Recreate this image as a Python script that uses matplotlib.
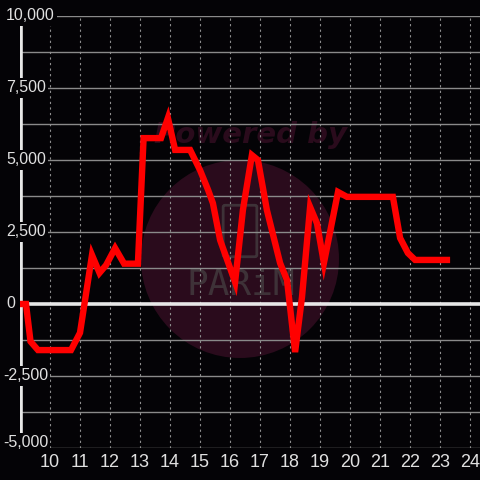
import matplotlib.pyplot as plt
from matplotlib.patches import Ellipse, FancyBboxPatch
import matplotlib.transforms as mtransforms

plt.rcParams['font.family'] = ['Liberation Sans', 'DejaVu Sans']

# hour of day vs value
hours = [9.0, 9.2, 9.35, 9.6, 10.7, 11.0, 11.4, 11.65, 11.87, 12.17, 12.47, 12.93,
         13.12, 13.7, 13.93, 14.17, 14.67, 15.0, 15.27, 15.43, 15.67, 16.17, 16.43,
         16.73, 16.93, 17.23, 17.67, 17.9, 18.17, 18.4, 18.67, 18.9, 19.13, 19.6,
         19.9, 21.43, 21.67, 21.93, 22.17, 23.23]
values = [0, 0, -1300, -1600, -1600, -1000, 1700, 1080, 1350, 1940, 1400, 1400,
          5760, 5760, 6460, 5350, 5350, 4650, 3960, 3500, 2220, 760, 3260,
          5170, 5000, 3260, 1420, 830, -1670, 240, 3370, 2800, 1420, 3890,
          3720, 3720, 2290, 1770, 1530, 1530]

xticks = list(range(10, 25))
yticks = [-5000, -2500, 0, 2500, 5000, 7500, 10000]
yminor = [-3750, -1250, 1250, 3750, 6250, 8750]

bg = '#040306'
fig = plt.figure(figsize=(4.8, 4.8), dpi=100, facecolor=bg)
ax = fig.add_axes([20/480, 32/480, 460/480, 432/480], facecolor=bg)
ax.set_xlim(9, 9 + 460/30)
ax.set_ylim(-5000, 10000)
for s in ax.spines.values():
    s.set_visible(False)

# watermark
ax.add_patch(Ellipse((220/460, 189/432), 198/460, 198/432, transform=ax.transAxes,
                     facecolor='#2a0b1c', edgecolor='none', zorder=0))
ax.add_patch(FancyBboxPatch((205/460, 193/432), 30/460, 48/432, transform=ax.transAxes,
                            boxstyle='round,pad=0.004', facecolor='none',
                            edgecolor='#3e3238', lw=2, zorder=0))
ax.text(0.5, 0.725, 'Powered by', transform=ax.transAxes, ha='center', va='center',
        fontsize=21, fontweight='bold', style='italic', color='#2a0b1c', zorder=0,
        family='DejaVu Sans')
ax.text(0.48, 0.378, 'PARiM', transform=ax.transAxes, ha='center', va='center',
        fontsize=26, color='#3e3238', zorder=0, family='DejaVu Sans Mono',
        fontweight='light')

# grid
for y in yticks + yminor:
    if y == 0:
        continue
    ax.axhline(y, color='#8a8a8a', lw=1, zorder=1)
for x in xticks:
    ax.axvline(x, color='#8f8f8f', lw=0.8, ls=(0, (2, 3)), zorder=1)
ax.axhline(0, color='#e8e8e8', lw=2.6, zorder=2)
ax.axvline(9.02, color='#e8e8e8', lw=2.6, zorder=2)

ax.plot(hours, values, color='#ff0000', lw=4.6, solid_joinstyle='miter', zorder=5)

ax.set_xticks(xticks)
ax.set_xticklabels([str(x) for x in xticks])
ax.set_yticks([])
ax.tick_params(axis='x', length=0, pad=4, labelsize=13, colors='#e0e0e0')

trans = mtransforms.blended_transform_factory(fig.transFigure, ax.transData)
for y in yticks:
    ypos = y + 200 if y == -5000 else y
    ax.text(3/480 if y < 0 else 6/480, ypos, f'{y:,}', transform=trans, ha='left',
            va='center', fontsize=11.5, color='#e0e0e0', zorder=4,
            bbox=dict(facecolor=bg, edgecolor='none', pad=1.5))

fig.savefig('out.png', dpi=100, facecolor=bg)
